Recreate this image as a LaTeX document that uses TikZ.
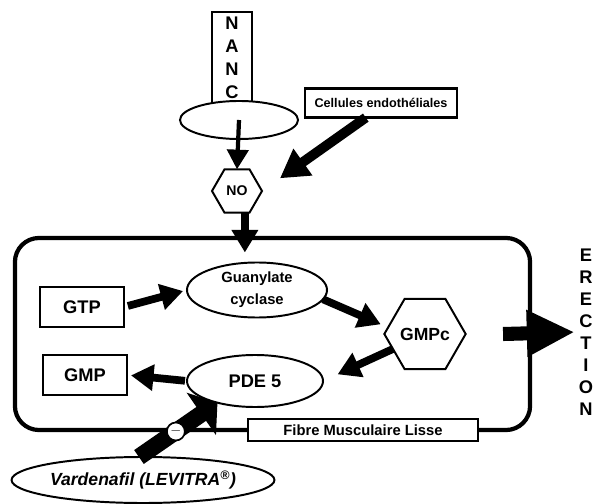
\documentclass[tikz,border=0pt]{standalone}
\usepackage{fontspec}
\setmainfont{Liberation Sans}
\usepackage{tikz}
\usetikzlibrary{shapes.geometric,arrows.meta,calc}
\newcommand{\textnanc}{N\\A\\N\\C}
\newcommand{\texterection}{E\\R\\E\\C\\T\\I\\O\\N}
\newcommand{\txt}[2]{\fontsize{#1}{#2}\selectfont}

\begin{document}
\begin{tikzpicture}[x=0.025cm,y=-0.025cm,
    any/.style={draw,line width=1.6pt,inner sep=0pt,outer sep=0pt,align=center},
    box/.style={any,rectangle,line width=2pt,minimum width=2.1cm,minimum height=1cm,%
                font=\bfseries\txt{13}{15}},
    oval/.style={any,ellipse,line width=1.4pt},
    hexa/.style={any,regular polygon,regular polygon sides=6,line width=1.4pt},
    thinarrow/.style={line width=3pt,-{Triangle[length=14pt,width=15pt]}},
    fatarrow/.style={line width=5.5pt,-{Triangle[length=16pt,width=18pt]}},
    bigarrow/.style={line width=10pt,-{Triangle[length=34pt,width=31pt]}},
    inhibarrow/.style={line width=12pt,-{Triangle[length=14pt,width=36pt]}}
]
\useasboundingbox (0,0) rectangle (598,504);

\node[any,line width=1.8pt,minimum width=1cm,minimum height=2.3cm,%
      font=\bfseries\txt{13}{16.4}] (nanc) at (232,58) {\textnanc};
\node[oval,fill=white,minimum width=2.95cm,minimum height=0.95cm] (nancell) at (239,120) {};
\node[any,line width=2pt,minimum width=3.8cm,minimum height=0.73cm,%
      font=\bfseries\txt{9}{11}] (endo) at (381,103) {Cellules endothéliales};
\node[hexa,minimum size=1.25cm,font=\bfseries\txt{10}{12}] (no) at (237,191) {NO};

\node[any,line width=3pt,rounded corners=0.6cm,minimum width=12.875cm,%
      minimum height=4.8cm] (muscle) at (272.5,334) {};

\node[box] (gtp) at (82,307) {GTP};
\node[box] (gmp) at (85,375) {GMP};
\node[oval,minimum width=3.5cm,minimum height=1.375cm,%
      font=\bfseries\txt{10.5}{15.6}] (guan) at (257,290) {Guanylate\\cyclase};
\node[oval,minimum width=3.4cm,minimum height=1.3cm,%
      font=\bfseries\txt{13}{15}] (pde) at (255,381) {PDE 5};
\node[hexa,minimum size=1.9cm,font=\bfseries\txt{12.5}{14}] (gmpc) at (425,334) {GMPc};

\node[any,fill=white,line width=2pt,minimum width=5.75cm,minimum height=0.55cm,%
      font=\bfseries\txt{10.5}{12}] (fibre) at (363,430) {Fibre Musculaire Lisse};
\node[oval,minimum width=6.55cm,minimum height=1.15cm,%
      font=\bfseries\itshape\txt{12.5}{14}] (vard) at (143,480) {Vardenafil (LEVITRA\textsuperscript{®})};
\node[inner sep=0pt,align=center,font=\bfseries\txt{13}{15.6}] (erection) at (586,332) {\texterection};

\draw[thinarrow] (nancell.center) -- (no.north);
\draw[fatarrow,line width=7pt,-{Triangle[length=20pt,width=22pt]},shorten >=0.55cm]
    ($(endo.south west)!0.4!(endo.south east)$) -- (no.east);
\draw[fatarrow,shorten >=0.25cm] (no.-70) -- (no.-70 |- guan.north);
\draw[fatarrow,shorten <=0.1cm,shorten >=0.1cm] (gtp.east) -- (guan.west);
\draw[fatarrow,shorten >=0.2cm] (guan.-8) -- (gmpc.170);
\draw[fatarrow,shorten >=0.4cm] (gmpc.205) -- (pde.east);
\draw[fatarrow,shorten <=0.05cm,shorten >=0.1cm] (pde.west) -- (gmp.east);
\draw[bigarrow,shorten >=0.1cm] ($(muscle.east)+(-27,0)$) -- (erection.west);
\draw[inhibarrow] (vard.100) -- (pde.210)
    node[pos=0.47,circle,draw,fill=white,line width=1.2pt,minimum size=0.45cm,inner sep=0pt,%
         font=\bfseries\txt{10}{12}] (minus) {$-$};
\end{tikzpicture}
\end{document}
